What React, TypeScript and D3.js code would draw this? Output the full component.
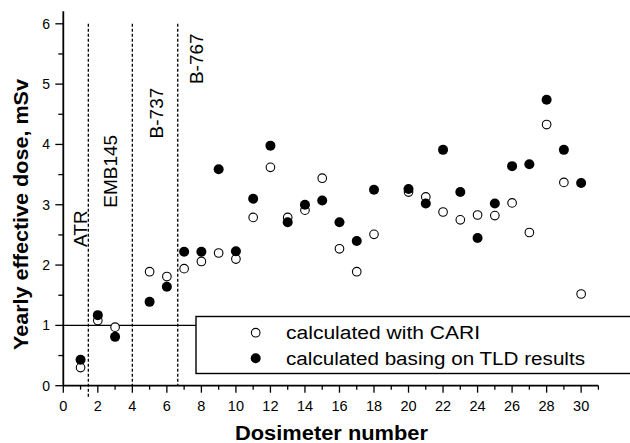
import React, { useEffect, useRef } from "react"
import * as d3 from "d3"

// dosimeter number (4 and 19 were not reported)
const dosimeters = [1, 2, 3, 5, 6, 7, 8, 9, 10, 11, 12, 13, 14, 15, 16, 17, 18, 20, 21, 22, 23, 24, 25, 26, 27, 28, 29, 30]
// yearly effective dose, mSv - calculated with CARI (open circles)
const cariDose = [0.3, 1.08, 0.97, 1.89, 1.81, 1.94, 2.06, 2.2, 2.1, 2.79, 3.62, 2.79, 2.91, 3.44, 2.27, 1.89, 2.51, 3.21, 3.13, 2.88, 2.75, 2.83, 2.82, 3.03, 2.54, 4.33, 3.37, 1.52]
// yearly effective dose, mSv - from TLD results (filled circles)
const tldDose = [0.43, 1.17, 0.81, 1.39, 1.64, 2.22, 2.22, 3.59, 2.23, 3.1, 3.98, 2.71, 3.0, 3.07, 2.71, 2.4, 3.25, 3.26, 3.02, 3.91, 3.21, 2.45, 3.02, 3.64, 3.67, 4.74, 3.91, 3.36]

const xTicks = [0, 2, 4, 6, 8, 10, 12, 14, 16, 18, 20, 22, 24, 26, 28, 30]
const yTicks = [0, 1, 2, 3, 4, 5, 6]
// aircraft group borders and labels
const groupBorders = [1.45, 4, 6.63]
const groupLabels = ["ATR", "EMB145", "B-737", "B-767"]
const groupLabelPos = [[1.38, 2.3], [3.1, 2.95], [5.75, 4.1], [8.1, 5.0]]
const legendLabels = ["calculated with CARI", "calculated basing on TLD results"]

const FONT = "'Liberation Sans', Arial, Helvetica, sans-serif"

export default function App() {
    const ref = useRef<SVGSVGElement>(null)

    useEffect(() => {
        document.body.style.margin = "0"
        const svg = d3.select(ref.current)
        svg.selectAll("*").remove()

        const x = d3.scaleLinear().domain([0, 31]).range([63.3, 598.4])
        const y = d3.scaleLinear().domain([0, 6]).range([385.7, 23.8])

        const g = svg.append("g").attr("font-family", FONT)

        // reference line at 1 mSv
        g.append("line")
            .attr("x1", x(0)).attr("x2", 196)
            .attr("y1", y(1)).attr("y2", y(1))
            .attr("stroke", "#000").attr("stroke-width", 1.2)

        // dashed borders between aircraft types
        g.selectAll(".border")
            .data(groupBorders)
            .enter()
            .append("line")
            .attr("class", "border")
            .attr("x1", d => x(d)).attr("x2", d => x(d))
            .attr("y1", y(6))
            .attr("y2", (d, i) => (i === 0 ? y(0) + 11 : y(0)))
            .attr("stroke", "#000")
            .attr("stroke-width", 1.3)
            .attr("stroke-dasharray", "3,2")

        // aircraft labels
        g.selectAll(".glabel")
            .data(groupLabels)
            .enter()
            .append("text")
            .attr("class", "glabel")
            .attr("transform", (d, i) => `translate(${x(groupLabelPos[i][0])},${y(groupLabelPos[i][1])}) rotate(-90)`)
            .attr("font-size", 19)
            .text(d => d)

        // axes
        g.append("line")
            .attr("x1", x(0)).attr("x2", x(0))
            .attr("y1", y(0)).attr("y2", y(6.21))
            .attr("stroke", "#000").attr("stroke-width", 1.8)
        g.append("line")
            .attr("x1", x(0)).attr("x2", x(31))
            .attr("y1", y(0)).attr("y2", y(0))
            .attr("stroke", "#000").attr("stroke-width", 1.8)

        // y ticks
        const yMinor = d3.range(0, 6.01, 0.5)
        g.selectAll(".ytick")
            .data(yMinor)
            .enter()
            .append("line")
            .attr("x1", d => (d % 1 === 0 ? x(0) - 8 : x(0) - 5))
            .attr("x2", x(0))
            .attr("y1", d => y(d)).attr("y2", d => y(d))
            .attr("stroke", "#000").attr("stroke-width", 1.3)
        g.selectAll(".ylab")
            .data(yTicks)
            .enter()
            .append("text")
            .attr("x", 50)
            .attr("y", d => y(d) + 5)
            .attr("text-anchor", "end")
            .attr("font-size", 14)
            .text(d => d)

        // x ticks
        const xMinor = d3.range(0, 32, 1)
        g.selectAll(".xtick")
            .data(xMinor)
            .enter()
            .append("line")
            .attr("x1", d => x(d)).attr("x2", d => x(d))
            .attr("y1", y(0))
            .attr("y2", d => (d % 2 === 0 ? y(0) + 7 : y(0) + 4))
            .attr("stroke", "#000").attr("stroke-width", 1.3)
        g.selectAll(".xlab")
            .data(xTicks)
            .enter()
            .append("text")
            .attr("x", d => x(d))
            .attr("y", 411)
            .attr("text-anchor", "middle")
            .attr("font-size", 14.5)
            .text(d => d)

        // axis titles
        g.append("text")
            .attr("x", 235).attr("y", 440)
            .attr("font-size", 19.5).attr("font-weight", "bold")
            .attr("textLength", 193).attr("lengthAdjust", "spacingAndGlyphs")
            .text("Dosimeter number")
        g.append("text")
            .attr("transform", "translate(28,350) rotate(-90)")
            .attr("font-size", 20).attr("font-weight", "bold")
            .attr("textLength", 271).attr("lengthAdjust", "spacingAndGlyphs")
            .text("Yearly effective dose, mSv")

        // points, filled ones on top
        const cariPts = dosimeters.map((d, i) => [d, cariDose[i]])
        const tldPts = dosimeters.map((d, i) => [d, tldDose[i]])
        g.selectAll(".cari")
            .data(cariPts)
            .enter()
            .append("circle")
            .attr("cx", d => x(d[0])).attr("cy", d => y(d[1]))
            .attr("r", 4.3)
            .attr("fill", "#fff").attr("stroke", "#000").attr("stroke-width", 1.1)
        g.selectAll(".tld")
            .data(tldPts)
            .enter()
            .append("circle")
            .attr("cx", d => x(d[0])).attr("cy", d => y(d[1]))
            .attr("r", 5)
            .attr("fill", "#000")

        // legend
        const lg = g.append("g")
        lg.append("rect")
            .attr("x", 196).attr("y", 316.5)
            .attr("width", 450).attr("height", 57)
            .attr("fill", "#fff").attr("stroke", "#000").attr("stroke-width", 1.4)
        lg.append("circle")
            .attr("cx", 255.7).attr("cy", 332.7).attr("r", 4.3)
            .attr("fill", "#fff").attr("stroke", "#000").attr("stroke-width", 1.1)
        lg.append("circle")
            .attr("cx", 255.7).attr("cy", 358.3).attr("r", 5)
            .attr("fill", "#000")
        const legendWidths = [194, 299]
        lg.selectAll(".ltext")
            .data(legendLabels)
            .enter()
            .append("text")
            .attr("x", 286)
            .attr("y", (d, i) => 339.3 + i * 25.5)
            .attr("font-size", 18)
            .attr("textLength", (d, i) => legendWidths[i])
            .attr("lengthAdjust", "spacingAndGlyphs")
            .text(d => d)
    }, [])

    return <svg ref={ref} width={630} height={443} style={{ display: "block", background: "#fff" }} />
}
